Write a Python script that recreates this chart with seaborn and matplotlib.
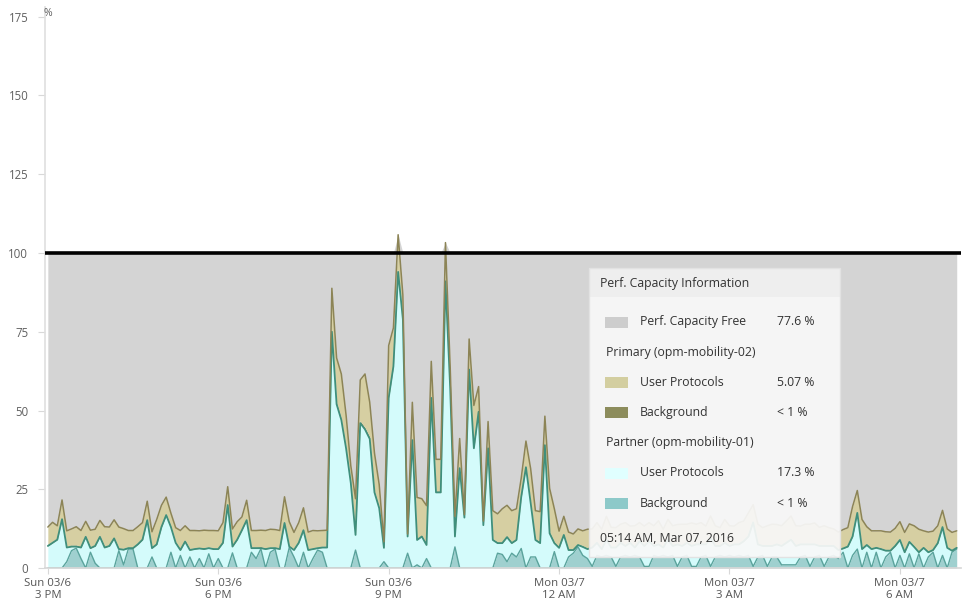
import numpy as np
import pandas as pd
import matplotlib
matplotlib.use("Agg")
import matplotlib.pyplot as plt
from matplotlib.patches import Rectangle
import seaborn as sns

# 5 minute samples, Sun 03/6 3 PM -> Mon 03/7 7 AM, values in %
# partner (opm-mobility-01) background
partner_bg = [
    0, 0, 0, 0, 2, 5.5, 6.3, 3, 0, 5, 1.5, 0,
    0, 0, 0, 5.5, 1, 6, 6, 0, 0, 0, 3.5, 0,
    0, 0, 5, 0, 4, 0, 3.5, 0, 3, 0, 4.5, 0,
    3, 0, 0, 4.8, 0, 0, 0, 5, 3, 6.1, 0, 5,
    6, 0, 0, 6.5, 3.5, 0, 5, 0, 3, 5.7, 5, 0,
    0, 0, 0, 0, 0, 5.7, 0, 0, 0, 0, 0, 2,
    0, 0, 0, 0, 4.7, 0, 1, 0, 3, 0, 0, 0,
    0, 0, 6.7, 0, 0, 0, 0, 0, 0, 0, 0, 4.7,
    4.3, 2, 4.7, 3.5, 6.2, 0, 3.5, 3.5, 0, 0, 0, 5.2,
    0, 0, 3.5, 4.7, 6.7, 4, 3, 0.5, 4, 3.5, 4, 3.5,
    0.5, 3.5, 4, 3.5, 4, 3.5, 0.5, 0.5, 4, 3.5, 4, 3.5,
    4, 0.5, 3.5, 4, 0.5, 0.5, 3.5, 4, 0.5, 3.5, 4, 3.5,
    4, 3.5, 4, 3.5, 4, 0.5, 3.5, 4, 0.5, 3.5, 3.5, 1,
    1, 1, 1, 3.5, 4, 0.5, 3.5, 4, 0.5, 3.5, 4, 3,
    5, 0, 4, 6, 0, 5, 0, 5, 0, 3.5, 5, 0,
    4, 0, 4.5, 0, 4.5, 0, 3.5, 5, 0, 4, 0, 5,
    6,
]
# partner user protocols
partner_user = [
    7.0, 8.0, 9.0, 15.5, 4.5, 1.3, 0.5, 3.5, 9.9, 1.3, 5.5, 9.9,
    6.5, 7.0, 9.4, 0.5, 4.8, 0.3, 0.3, 7.5, 9.0, 15.2, 2.8, 7.5,
    13.0, 16.8, 8.0, 8.0, 1.7, 8.4, 2.2, 6.0, 3.2, 6.0, 1.8, 6.0,
    3.0, 8.0, 20.0, 2.0, 9.0, 12.0, 15.2, 1.3, 3.3, 0.2, 6.0, 1.3,
    0.3, 6.0, 14.3, 0.3, 2.2, 8.0, 7.0, 5.7, 3.0, 0.6, 1.5, 6.5,
    75, 52, 47, 38, 27, 4.8, 46, 44, 41, 24, 19, 4.4,
    54, 64, 94, 79, 5.3, 40.6, 7.9, 10, 4.3, 54, 24, 24,
    91, 57, 3.3, 31.7, 16, 63, 38, 49.6, 13.6, 38, 8.9, 3.2,
    3.6, 7.8, 3.2, 5.4, 16.3, 32, 17.1, 5.4, 7.9, 39, 11, 2.7,
    6.4, 10.5, 2.2, 1, 0.6, 2.7, 3, 6, 4, 2.5, 5, 3,
    6, 4.5, 3, 4.5, 2.5, 5, 6.5, 8, 3, 4, 2.5, 5.5,
    3, 7, 3.5, 4, 6.5, 7, 4, 3.5, 9, 3.5, 3, 4.5,
    3, 4, 3.5, 5, 6, 14, 4, 3, 6.5, 3.5, 4, 6,
    7, 8, 6, 4, 3.5, 7, 4, 3, 6.5, 3.5, 3, 2.7,
    1.2, 6.8, 6, 11.5, 6, 2.3, 6, 1.4, 6, 2, 0.5, 7,
    4.9, 5, 3.8, 6.7, 0.5, 6.4, 1.5, 0.7, 7.9, 9, 6.4, 0.5,
    0.4,
]
# primary (opm-mobility-02) background
primary_bg = [
    0.4, 0.5, 0.4, 0.6, 0.3, 0.4, 0.5, 0.4, 0.4, 0.5, 0.3, 0.4,
    0.5, 0.4, 0.3, 0.4, 0.5, 0.4, 0.4, 0.6, 0.4, 0.5, 0.3, 0.4,
    0.4, 0.5, 0.4, 0.3, 0.4, 0.5, 0.4, 0.4, 0.3, 0.5, 0.4, 0.4,
    0.3, 0.4, 0.5, 0.4, 0.4, 0.3, 0.5, 0.4, 0.4, 0.5, 0.4, 0.3,
    0.4, 0.4, 0.6, 0.4, 0.3, 0.4, 0.5, 0.4, 0.4, 0.3, 0.4, 0.5,
    0.8, 0.7, 0.6, 0.6, 0.5, 0.4, 0.7, 0.6, 0.6, 0.5, 0.5, 0.3,
    0.6, 0.7, 0.8, 0.7, 0.3, 0.6, 0.4, 0.4, 0.4, 0.6, 0.5, 0.5,
    0.8, 0.6, 0.4, 0.5, 0.4, 0.7, 0.6, 0.6, 0.4, 0.5, 0.4, 0.4,
    0.4, 0.5, 0.4, 0.4, 0.5, 0.6, 0.5, 0.4, 0.4, 0.6, 0.5, 0.4,
    0.3, 0.4, 0.4, 0.3, 0.4, 0.4, 0.3, 0.4, 0.4, 0.3, 0.4, 0.4,
    0.3, 0.4, 0.4, 0.3, 0.4, 0.4, 0.3, 0.4, 0.4, 0.5, 0.3, 0.4,
    0.4, 0.3, 0.4, 0.4, 0.3, 0.4, 0.4, 0.3, 0.5, 0.4, 0.3, 0.4,
    0.4, 0.3, 0.4, 0.4, 0.5, 0.6, 0.4, 0.3, 0.4, 0.4, 0.3, 0.4,
    0.4, 0.5, 0.4, 0.3, 0.4, 0.4, 0.3, 0.4, 0.4, 0.3, 0.4, 0.4,
    0.4, 0.3, 0.5, 0.6, 0.4, 0.4, 0.3, 0.4, 0.4, 0.3, 0.4, 0.4,
    0.4, 0.3, 0.4, 0.4, 0.3, 0.4, 0.4, 0.3, 0.4, 0.5, 0.4, 0.3,
    0.4,
]
# primary user protocols
primary_user = [
    5.6, 6.0, 4.0, 5.5, 5.0, 5.2, 5.8, 5.0, 4.5, 5.2, 5.0, 4.8,
    6.1, 5.6, 5.6, 6.6, 6.2, 5.2, 5.2, 5.0, 5.0, 5.5, 4.9, 7.5,
    6.5, 5.2, 4.0, 4.5, 5.8, 4.5, 5.8, 5.5, 5.3, 5.5, 5.2, 5.5,
    5.5, 6.0, 5.3, 5.2, 5.3, 3.9, 5.8, 5.2, 5.2, 5.2, 5.5, 5.7,
    5.5, 5.5, 7.7, 7.5, 5.3, 6.0, 6.6, 5.3, 5.5, 5.2, 5.0, 5.0,
    13, 14, 14, 10, 5, 11.1, 13, 17, 11, 12, 7, 1.6,
    16, 11.5, 11, 7, 0.5, 11.4, 13.1, 11.6, 12.1, 11, 10, 10,
    11.5, 6, 6, 8.9, 0.5, 9, 13, 7.4, 0.9, 8, 8.9, 8.9,
    10.5, 9.6, 9.9, 9.5, 5.5, 7.7, 10.4, 8.9, 9.6, 8.6, 13.8, 10.5,
    5, 5.5, 5.3, 4.8, 4.7, 4.7, 6, 5.5, 6, 6, 7, 6,
    6, 5.5, 7, 5, 6.5, 5.5, 6, 5.5, 6, 7, 5.5, 6,
    6, 6, 6.5, 5.5, 7, 6, 6.5, 5.5, 6.5, 6, 5.5, 7,
    6, 5.5, 6.5, 6, 7, 5, 6, 5.5, 6, 6.5, 6, 6,
    6.5, 7, 6, 5.5, 6, 6, 6.5, 5.5, 6, 5.5, 5, 5.3,
    5.6, 5.7, 9, 6.5, 9, 5.4, 5.5, 5, 5.4, 5.7, 5.5, 5.2,
    5.4, 6, 5.3, 6.3, 7, 5, 6, 5.7, 5.1, 4.8, 5.6, 5.5,
    5,
]

tick_times = ["2016-03-06 15:00", "2016-03-06 18:00", "2016-03-06 21:00",
              "2016-03-07 00:00", "2016-03-07 03:00", "2016-03-07 06:00"]
tick_labels = ["Sun 03/6\n3 PM", "Sun 03/6\n6 PM", "Sun 03/6\n9 PM",
               "Mon 03/7\n12 AM", "Mon 03/7\n3 AM", "Mon 03/7\n6 AM"]
y_ticks = [0, 25, 50, 75, 100, 125, 150, 175]

legend_title = "Perf. Capacity Information"
legend_rows = [("item", "Perf. Capacity Free", "77.6 %", "#cdcdcd"),
               ("head", "Primary (opm-mobility-02)", "", None),
               ("item", "User Protocols", "5.07 %", "#d3cea0"),
               ("item", "Background", "< 1 %", "#8c8c5c"),
               ("head", "Partner (opm-mobility-01)", "", None),
               ("item", "User Protocols", "17.3 %", "#e0ffff"),
               ("item", "Background", "< 1 %", "#8dc9c9")]
legend_time = "05:14 AM, Mar 07, 2016"

times = pd.date_range("2016-03-06 15:00", periods=len(partner_bg), freq="5min")
pbg = np.array(partner_bg)
pu = np.array(partner_user)
mbg = np.array(primary_bg)
mu = np.array(primary_user)
used = pbg + pu + mbg + mu
free = np.clip(100 - used, 0, None)

sns.set_theme(style="white")
plt.rcParams['font.family'] = ['Open Sans', 'DejaVu Sans']

W, H = 964, 602
fig = plt.figure(figsize=(W / 100, H / 100), dpi=100)
ax = fig.add_axes([45 / W, 34 / H, (960.5 - 45) / W, 560.7 / H])

ax.stackplot(times, pbg, pu, mbg, mu, free,
             colors=["#9fd0cf", "#d4fbfb", "#8c8c5c", "#d6cfa2", "#d4d4d4"],
             linewidth=0)

# series outlines
sns.lineplot(x=times, y=pbg, ax=ax, color="#5aa39c", lw=1.0)
sns.lineplot(x=times, y=pbg + pu, ax=ax, color="#3f8f7c", lw=1.3)
sns.lineplot(x=times, y=used, ax=ax, color="#8c8456", lw=1.1)

ax.axhline(100, color="black", lw=2.6, zorder=5)

ax.set_xlim(pd.Timestamp("2016-03-06 14:57"), pd.Timestamp("2016-03-07 07:04"))
ax.set_ylim(0, 178)
ax.set_yticks(y_ticks)
ax.set_yticklabels([str(v) for v in y_ticks], fontsize=8.3, color="#606060")
ax.set_xticks(pd.to_datetime(tick_times))
ax.set_xticklabels(tick_labels, fontsize=8.2, color="#555555", linespacing=1.15)
ax.tick_params(axis="y", length=5, width=0.8, color="#d8d8d8", pad=7, left=True)
ax.tick_params(axis="x", length=4, width=0.8, color="#d8d8d8", pad=3, bottom=True)
for s in ["top", "right"]:
    ax.spines[s].set_visible(False)
ax.spines["left"].set_color("#e0e0e0")
ax.spines["bottom"].set_color("#d8d8d8")
ax.set_xlabel("")
ax.set_ylabel("")
ax.text(44 / W, 1 - 13 / H, "%", transform=fig.transFigure, fontsize=7.5,
        color="#606060", va="center", ha="left")


def fx(x):
    return x / W


def fy(y):
    return 1 - y / H


# tooltip style legend box
bx0, bx1, by0, by1 = 589, 840, 268, 557
fig.add_artist(Rectangle((fx(bx0), fy(by1)), fx(bx1) - fx(bx0), fy(by0) - fy(by1),
                         transform=fig.transFigure, facecolor="#f8f8f8", alpha=0.93,
                         edgecolor="none", zorder=6))
fig.add_artist(Rectangle((fx(bx0), fy(297)), fx(bx1) - fx(bx0), fy(by0) - fy(297),
                         transform=fig.transFigure, facecolor="#eeeeee",
                         edgecolor="none", zorder=6))
fig.add_artist(Rectangle((fx(bx0), fy(by1)), fx(bx1) - fx(bx0), fy(by0) - fy(by1),
                         transform=fig.transFigure, facecolor="none",
                         edgecolor="#e2e2e2", lw=1, zorder=7))
fs = 8.8
fig.text(fx(600), fy(283), legend_title, fontsize=fs, color="#333333",
         va="center", ha="left", zorder=8)
for k, (kind, label, val, col) in enumerate(legend_rows):
    yc = 322 + 30.2 * k
    if kind == "head":
        fig.text(fx(606), fy(yc), label, fontsize=fs, color="#333333",
                 va="center", ha="left", zorder=8)
        continue
    fig.add_artist(Rectangle((fx(605), fy(yc + 5.5)), fx(628) - fx(605), 11 / H,
                             transform=fig.transFigure, facecolor=col,
                             edgecolor="none", zorder=8))
    fig.text(fx(640), fy(yc), label, fontsize=fs, color="#333333",
             va="center", ha="left", zorder=8)
    fig.text(fx(777), fy(yc), val, fontsize=fs, color="#333333",
             va="center", ha="left", zorder=8)
fig.text(fx(600), fy(538), legend_time, fontsize=fs, color="#333333",
         va="center", ha="left", zorder=8)

fig.savefig("out.png", dpi=100)
